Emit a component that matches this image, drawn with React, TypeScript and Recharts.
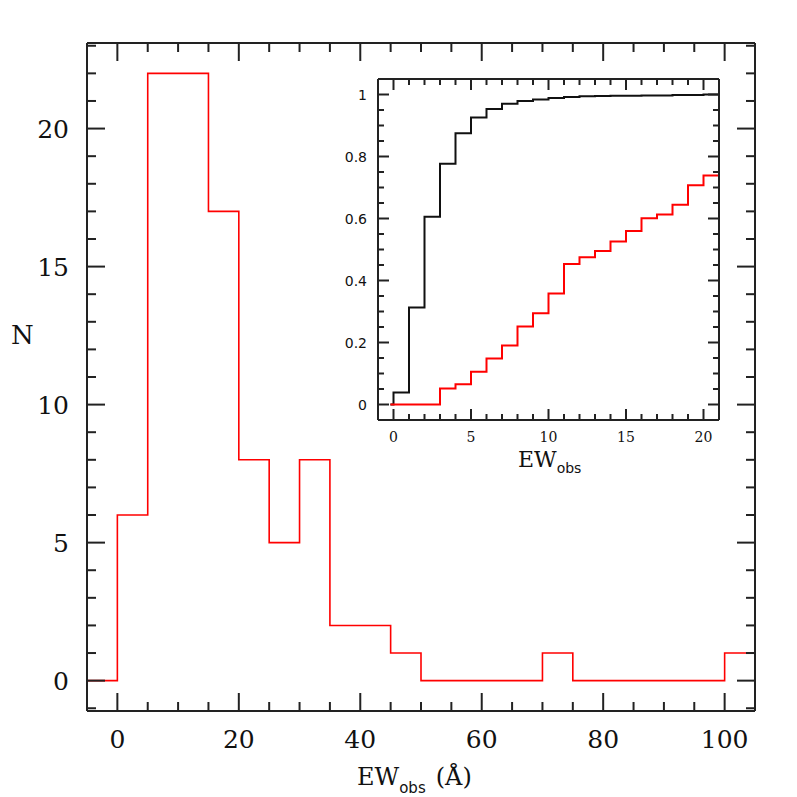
import { LineChart, Line, XAxis, YAxis } from "recharts";

// main histogram: EW_obs bins of 5 Å (last edge repeats the last count so the step closes)
const binEdges = [-5, 0, 5, 10, 15, 20, 25, 30, 35, 40, 45, 50, 55, 60, 65, 70, 75, 80, 85, 90, 95, 100, 105];
const counts = [0, 6, 22, 22, 17, 8, 5, 8, 2, 2, 1, 0, 0, 0, 0, 1, 0, 0, 0, 0, 0, 1, 1];

// inset: cumulative fractions
const cdfX = [-0.2, 0, 1, 2, 3, 4, 5, 6, 7, 8, 9, 10, 11, 12, 13, 14, 15, 16, 17, 18, 19, 20, 21];
const cdfBlack = [0, 0.039, 0.313, 0.606, 0.777, 0.875, 0.926, 0.953, 0.97, 0.979, 0.984, 0.989, 0.992, 0.994, 0.995, 0.996, 0.996, 0.997, 0.997, 0.998, 0.998, 1.0, 1.0];
const cdfRed = [0, 0, 0, 0, 0.052, 0.065, 0.106, 0.148, 0.19, 0.252, 0.294, 0.358, 0.453, 0.475, 0.495, 0.526, 0.56, 0.601, 0.613, 0.644, 0.707, 0.739, 0.739];

// ticks
const mainXTicks = [0, 5, 10, 15, 20, 25, 30, 35, 40, 45, 50, 55, 60, 65, 70, 75, 80, 85, 90, 95, 100];
const mainXLabels = [0, 20, 40, 60, 80, 100];
const mainYTicks = [-1, 0, 1, 2, 3, 4, 5, 6, 7, 8, 9, 10, 11, 12, 13, 14, 15, 16, 17, 18, 19, 20, 21, 22, 23];
const mainYLabels = [0, 5, 10, 15, 20];
const insetXTicks = [0, 1, 2, 3, 4, 5, 6, 7, 8, 9, 10, 11, 12, 13, 14, 15, 16, 17, 18, 19, 20, 21];
const insetXLabels = [0, 5, 10, 15, 20];
const insetYTicks = [0, 0.05, 0.1, 0.15, 0.2, 0.25, 0.3, 0.35, 0.4, 0.45, 0.5, 0.55, 0.6, 0.65, 0.7, 0.75, 0.8, 0.85, 0.9, 0.95, 1];
const insetYLabels = [0, 0.2, 0.4, 0.6, 0.8, 1];

const histData = binEdges.map((x, i) => ({ x, n: counts[i] }));
const cdfData = cdfX.map((x, i) => ({ x, black: cdfBlack[i], red: cdfRed[i] }));

const INK = "#222";
const SERIF = "DejaVu Serif";

type Side = "bottom" | "top" | "left" | "right";

function makeTick(
  side: Side,
  labels: number[],
  majorLen: number,
  minorLen: number,
  showLabel: boolean,
  font: { size: number; family: string; offset: number }
) {
  return (props: any) => {
    const { x, y, payload } = props;
    const v = payload.value;
    const major = labels.some((l) => Math.abs(l - v) < 1e-6);
    const len = major ? majorLen : minorLen;
    let x2 = x;
    let y2 = y;
    if (side === "bottom") y2 = y - len;
    if (side === "top") y2 = y + len;
    if (side === "left") x2 = x + len;
    if (side === "right") x2 = x - len;
    let label = null;
    if (showLabel && major) {
      const txt = String(Math.round(v * 10) / 10);
      if (side === "bottom") {
        label = (
          <text x={x} y={y + font.offset} textAnchor="middle" fontSize={font.size} fontFamily={font.family} fill="#111">
            {txt}
          </text>
        );
      } else {
        label = (
          <text x={x - font.offset} y={y} dy="0.36em" textAnchor="end" fontSize={font.size} fontFamily={font.family} fill="#111">
            {txt}
          </text>
        );
      }
    }
    return (
      <g>
        <line x1={x} y1={y} x2={x2} y2={y2} stroke={INK} strokeWidth={2} />
        {label}
      </g>
    );
  };
}

const frame = { stroke: INK, strokeWidth: 2 };

export default function App() {
  return (
    <div style={{ position: "fixed", left: 0, top: 0, width: 797, height: 797, background: "#fff" }}>
      <LineChart width={797} height={797} data={histData} margin={{ top: 42, right: 41, bottom: 85, left: 86 }}>
        <XAxis dataKey="x" type="number" domain={[-5, 105]} allowDataOverflow ticks={mainXTicks} interval={0} height={1}
          tickSize={0} tickMargin={0} tickLine={false} axisLine={frame}
          tick={makeTick("bottom", mainXLabels, 18, 9, true, { size: 25, family: SERIF, offset: 37 })} />
        <XAxis xAxisId="top" orientation="top" dataKey="x" type="number" domain={[-5, 105]} allowDataOverflow ticks={mainXTicks} interval={0} height={1}
          tickSize={0} tickMargin={0} tickLine={false} axisLine={frame}
          tick={makeTick("top", mainXLabels, 18, 9, false, { size: 25, family: SERIF, offset: 0 })} />
        <YAxis type="number" domain={[-1.1, 23.1]} allowDataOverflow ticks={mainYTicks} interval={0} width={1}
          tickSize={0} tickMargin={0} tickLine={false} axisLine={frame}
          tick={makeTick("left", mainYLabels, 18, 9, true, { size: 25, family: SERIF, offset: 18 })} />
        <YAxis yAxisId="right" orientation="right" type="number" domain={[-1.1, 23.1]} allowDataOverflow ticks={mainYTicks} interval={0} width={1}
          tickSize={0} tickMargin={0} tickLine={false} axisLine={frame}
          tick={makeTick("right", mainYLabels, 18, 9, false, { size: 25, family: SERIF, offset: 0 })} />
        <Line dataKey="n" type="stepAfter" stroke="#ff0000" strokeWidth={1.6} dot={false} activeDot={false} isAnimationActive={false} />
      </LineChart>

      <div style={{ position: "absolute", left: 328, top: 69 }}>
        <LineChart width={400} height={400} data={cdfData} margin={{ top: 9, right: 8, bottom: 48, left: 49 }}>
          <XAxis dataKey="x" type="number" domain={[-1, 21]} allowDataOverflow ticks={insetXTicks} interval={0} height={1}
            tickSize={0} tickMargin={0} tickLine={false} axisLine={frame}
            tick={makeTick("bottom", insetXLabels, 11, 6, true, { size: 14, family: SERIF, offset: 22 })} />
          <XAxis xAxisId="top" orientation="top" dataKey="x" type="number" domain={[-1, 21]} allowDataOverflow ticks={insetXTicks} interval={0} height={1}
            tickSize={0} tickMargin={0} tickLine={false} axisLine={frame}
            tick={makeTick("top", insetXLabels, 11, 6, false, { size: 14, family: SERIF, offset: 0 })} />
          <YAxis type="number" domain={[-0.05, 1.05]} allowDataOverflow ticks={insetYTicks} interval={0} width={1}
            tickSize={0} tickMargin={0} tickLine={false} axisLine={frame}
            tick={makeTick("left", insetYLabels, 11, 6, true, { size: 14, family: "DejaVu Sans", offset: 11 })} />
          <YAxis yAxisId="right" orientation="right" type="number" domain={[-0.05, 1.05]} allowDataOverflow ticks={insetYTicks} interval={0} width={1}
            tickSize={0} tickMargin={0} tickLine={false} axisLine={frame}
            tick={makeTick("right", insetYLabels, 11, 6, false, { size: 14, family: SERIF, offset: 0 })} />
          <Line dataKey="black" type="stepAfter" stroke="#111" strokeWidth={2} dot={false} activeDot={false} isAnimationActive={false} />
          <Line dataKey="red" type="stepAfter" stroke="#ff0000" strokeWidth={2} dot={false} activeDot={false} isAnimationActive={false} />
        </LineChart>
      </div>

      <svg width={797} height={797} style={{ position: "absolute", left: 0, top: 0, pointerEvents: "none" }}>
        <text x={11} y={344} fontSize={26} fontFamily={SERIF} fill="#111">N</text>
        <text x={357} y={785} fontSize={24} fontFamily={SERIF} fill="#111">
          EW
          <tspan dy={8} fontSize={15} fontFamily="DejaVu Sans">obs</tspan>
          <tspan dy={-8} dx={10}>(Å)</tspan>
        </text>
        <text x={518} y={467} fontSize={22} fontFamily={SERIF} fill="#111">
          EW
          <tspan dy={6} fontSize={14} fontFamily="DejaVu Sans">obs</tspan>
        </text>
      </svg>
    </div>
  );
}
